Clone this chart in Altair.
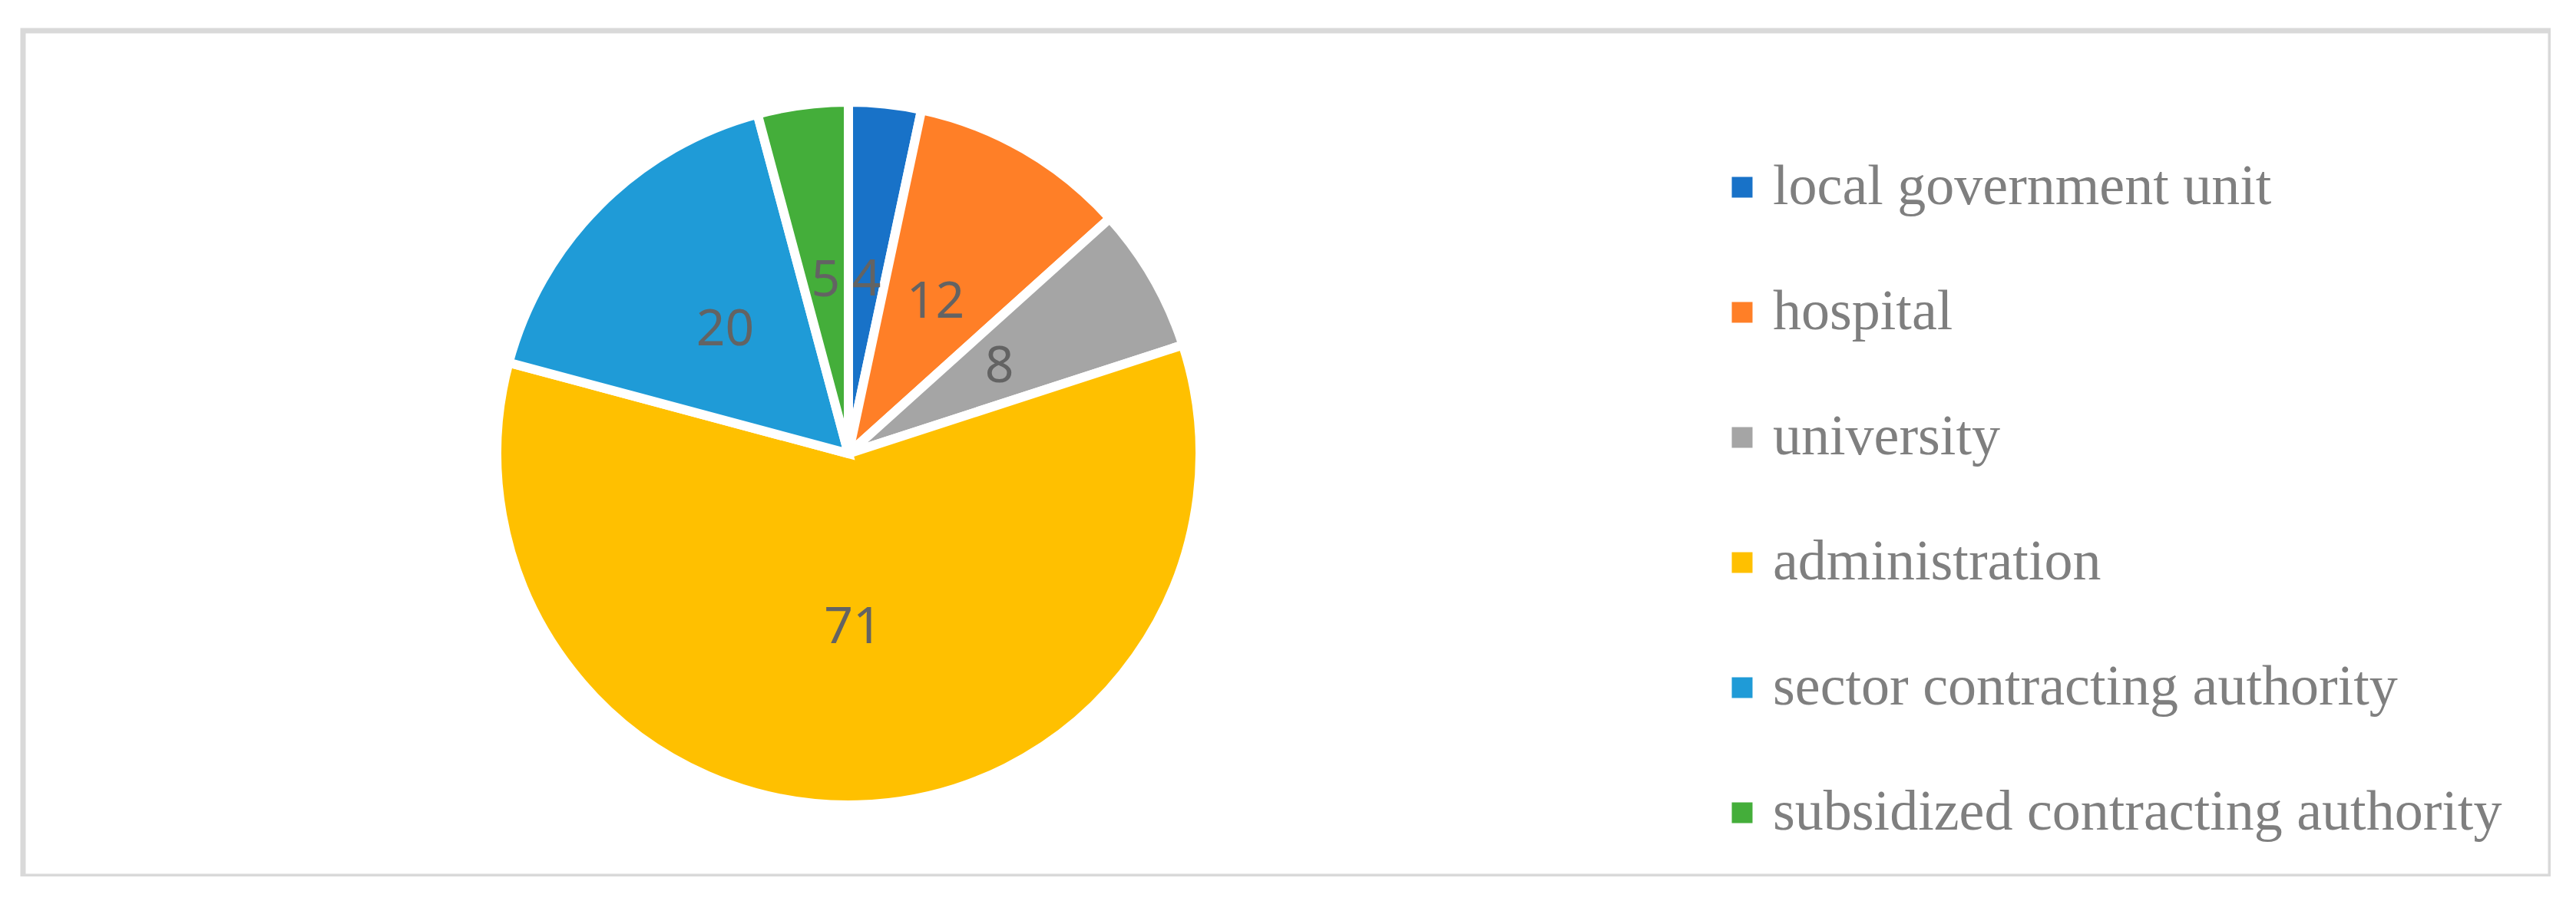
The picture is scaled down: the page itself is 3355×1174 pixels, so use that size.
import altair as alt
import pandas as pd

categories = ["local government unit", "hospital", "university", "administration",
              "sector contracting authority", "subsidized contracting authority"]
values = [4, 12, 8, 71, 20, 5]
colors = ["#1872C8", "#FF7F27", "#A5A5A5", "#FFC000", "#1F9BD7", "#44AE3A"]

df = pd.DataFrame({"category": categories, "value": values, "idx": list(range(len(categories)))})

CX, CY = 1075, 551
R = 452

base = alt.Chart(df).encode(
    theta=alt.Theta("value:Q", stack=True),
    order=alt.Order("idx:Q", sort="ascending"),
    x=alt.value(CX),
    y=alt.value(CY),
)

pie = base.mark_arc(outerRadius=R + 6, stroke="white", strokeWidth=12).encode(
    color=alt.Color(
        "category:N",
        sort=categories,
        scale=alt.Scale(domain=categories, range=colors),
        legend=alt.Legend(
            title=None,
            orient="none",
            legendX=2202,
            legendY=167,
            symbolType="square",
            symbolSize=729,
            symbolStrokeWidth=0,
            labelFont="Liberation Serif",
            labelFontSize=74,
            labelColor="#7f7f7f",
            labelLimit=3000,
            labelOffset=3,
            rowPadding=89,
            padding=0,
            columns=1,
        ),
    )
)

labels = base.mark_text(radius=227, font="Noto Sans", fontSize=66, color="#636363").encode(
    text=alt.Text("value:Q")
)

chart = (
    alt.layer(pie, labels)
    .properties(
        width=3292,
        height=1102,
        padding={"left": 22, "top": 32, "right": 0, "bottom": 0},
        autosize=alt.AutoSizeParams(type="none"),
        background="white",
    )
    .configure_view(stroke="#d9d9d9", strokeWidth=7)
)

chart.save("out.html", embed_options={"renderer": "svg", "actions": False})
